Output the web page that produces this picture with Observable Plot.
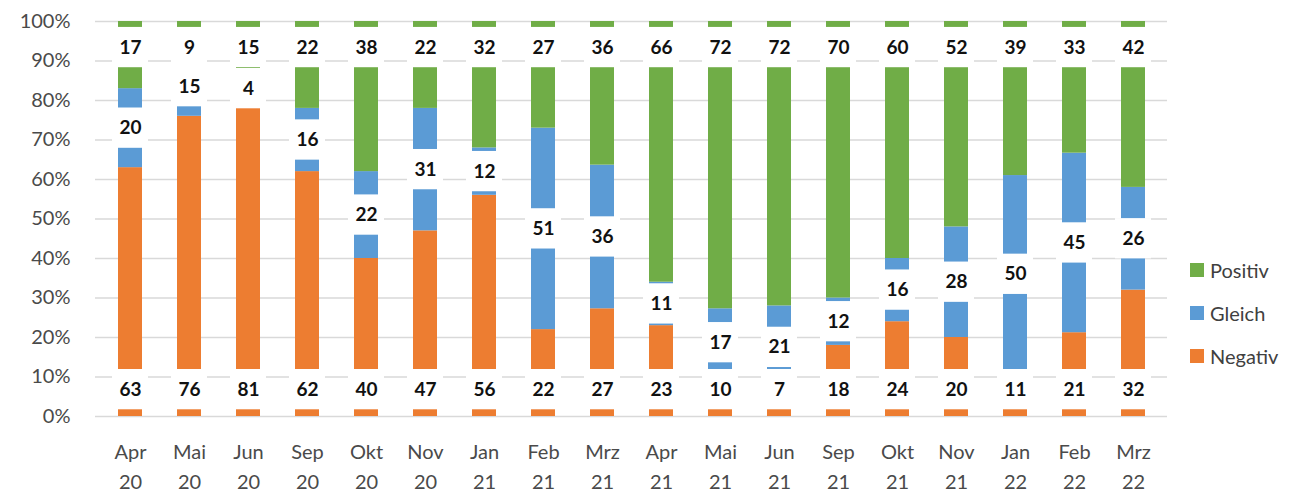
<!DOCTYPE html>
<html><head><meta charset="utf-8">
<script src="https://cdn.jsdelivr.net/npm/d3@7"></script>
<script src="https://cdn.jsdelivr.net/npm/@observablehq/plot@0.6"></script>
<style>
body{margin:0;background:#fff;font-family:Lato,"Open Sans",sans-serif;}
#wrap{position:relative;width:1309px;height:493px;overflow:hidden;}
#legend{position:absolute;left:1190px;top:248px;font-size:20px;color:#404040;}
#legend div{display:flex;align-items:center;height:43px;}
#legend span.sw{display:inline-block;width:14px;height:14px;margin-right:6px;}
</style></head><body>
<div id="wrap"><div id="chart"></div><div id="legend"></div></div>
<script>
const months = ["Apr\n20","Mai\n20","Jun\n20","Sep\n20","Okt\n20","Nov\n20","Jan\n21","Feb\n21","Mrz\n21","Apr\n21","Mai\n21","Jun\n21","Sep\n21","Okt\n21","Nov\n21","Jan\n22","Feb\n22","Mrz\n22"];
const seriesNames = ["Negativ","Gleich","Positiv"];
const seriesColors = ["#ED7D31","#5B9BD5","#70AD47"];
const negativ = [63,76,81,62,40,47,56,22,27,23,10,7,18,24,20,11,21,32];
const gleich  = [20,15,4,16,22,31,12,51,36,11,17,21,12,16,28,50,45,26];
const positiv = [17,9,15,22,38,22,32,27,36,66,72,72,70,60,52,39,33,42];

const rows = [];
months.forEach((m,i)=>{
  rows.push({month:m, series:"Negativ", value:negativ[i]});
  rows.push({month:m, series:"Gleich", value:gleich[i]});
  rows.push({month:m, series:"Positiv", value:positiv[i]});
});
const labels = months.map((m,i)=>{
  const t = negativ[i]+gleich[i]+positiv[i];
  return {month:m, neg:negativ[i], gl:gleich[i], pos:positiv[i], glMid:(negativ[i]+gleich[i]/2)/t};
});
const POS_Y = 0.934, NEG_Y = 0.068, HALF = 0.051;
const boxOpts = {x:"month", fill:"white", insetLeft:-6, insetRight:-6};
const txtOpts = {x:"month", fontSize:19, fontWeight:"bold", fill:"#111"};

const chart = Plot.plot({
  width:1309, height:493,
  marginTop:21, marginBottom:77, marginLeft:95, marginRight:142,
  style:{fontFamily:"Lato, 'Open Sans', sans-serif", background:"white"},
  x:{domain:months, paddingInner:0.6, paddingOuter:0.28, label:null},
  y:{domain:[0,1], label:null},
  color:{domain:seriesNames, range:seriesColors},
  marks:[
    Plot.gridY({ticks:10, stroke:"#d9d9d9", strokeOpacity:1, strokeWidth:1.5}),
    Plot.axisY({ticks:10, tickFormat:d3.format(".0%"), tickSize:0, tickPadding:25, fontSize:20, color:"#4a4a4a", label:null}),
    Plot.axisX({tickSize:0, tickPadding:21, fontSize:20, lineHeight:1.5, color:"#4a4a4a", label:null}),
    Plot.barY(rows, Plot.stackY({x:"month", y:"value", fill:"series", order:seriesNames, offset:"normalize"})),
    Plot.barY(labels, {...boxOpts, y1:d=>d.glMid-HALF, y2:d=>d.glMid+HALF}),
    Plot.barY(labels, {...boxOpts, y1:POS_Y-HALF, y2:POS_Y+HALF}),
    Plot.barY(labels, {...boxOpts, y1:NEG_Y-HALF, y2:NEG_Y+HALF}),
    Plot.text(labels, {...txtOpts, y:"glMid", text:d=>String(d.gl)}),
    Plot.text(labels, {...txtOpts, y:()=>POS_Y, text:d=>String(d.pos)}),
    Plot.text(labels, {...txtOpts, y:()=>NEG_Y, text:d=>String(d.neg)})
  ]
});
document.getElementById("chart").appendChild(chart);

const legend = document.getElementById("legend");
[2,1,0].forEach(k=>{
  const d = document.createElement("div");
  d.innerHTML = `<span class="sw" style="background:${seriesColors[k]}"></span>${seriesNames[k]}`;
  legend.appendChild(d);
});
</script>
</body></html>
